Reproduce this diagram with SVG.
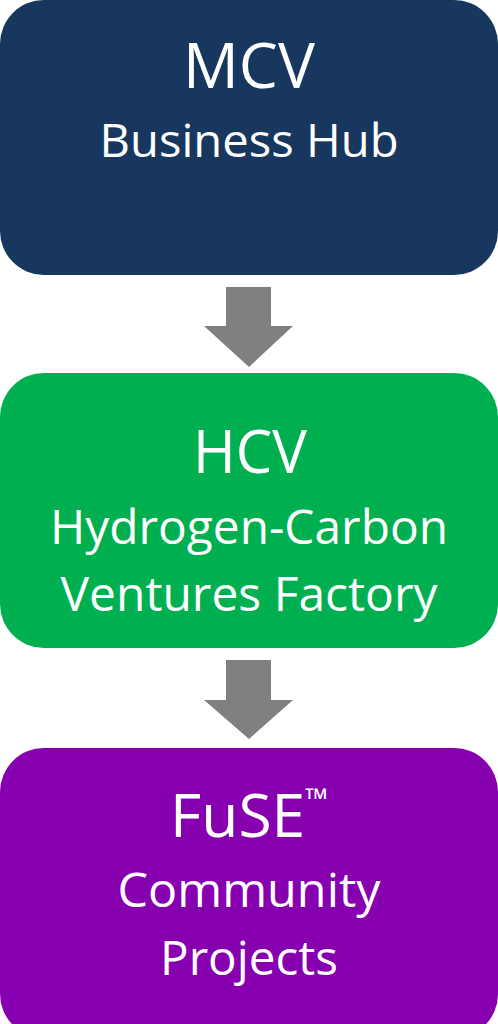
<svg xmlns="http://www.w3.org/2000/svg" width="498" height="1024" viewBox="0 0 498 1024">
  <style>
    .box { stroke: none; }
    .lbl { fill: #ffffff; font-family: "Open Sans", "Noto Sans", sans-serif; text-anchor: middle; }
    .arrow { fill: #808080; stroke: none; }
  </style>
  <rect x="0" y="0" width="498" height="1024" fill="#ffffff"/>
  <g id="node-mcv">
    <rect class="box" x="0" y="0" width="498" height="275" rx="44" ry="44" fill="#17375E"/>
    <text class="lbl" x="249" y="88" font-size="63" textLength="132" lengthAdjust="spacingAndGlyphs">MCV</text>
    <text class="lbl" x="249" y="157" font-size="45" textLength="299" lengthAdjust="spacingAndGlyphs">Business Hub</text>
  </g>
  <g id="node-hcv">
    <rect class="box" x="0" y="373" width="498" height="275" rx="44" ry="44" fill="#00B050"/>
    <text class="lbl" x="250" y="473" font-size="61" textLength="114" lengthAdjust="spacingAndGlyphs">HCV</text>
    <text class="lbl" x="249" y="544" font-size="47" textLength="398" lengthAdjust="spacingAndGlyphs">Hydrogen-Carbon</text>
    <text class="lbl" x="249" y="611" font-size="47" textLength="377" lengthAdjust="spacingAndGlyphs">Ventures Factory</text>
  </g>
  <g id="node-fuse">
    <rect class="box" x="0" y="748" width="498" height="290" rx="44" ry="44" fill="#8600B0"/>
    <text class="lbl" x="249" y="837" font-size="61" textLength="158" lengthAdjust="spacingAndGlyphs">FuSE<tspan font-size="30" dy="-27">™</tspan></text>
    <text class="lbl" x="249" y="907" font-size="47" textLength="263" lengthAdjust="spacingAndGlyphs">Community</text>
    <text class="lbl" x="249" y="975" font-size="47" textLength="178" lengthAdjust="spacingAndGlyphs">Projects</text>
  </g>
  <g id="connectors">
    <polygon class="arrow" points="226,287 271,287 271,326 293,326 249,367 204,326 226,326"/>
    <polygon class="arrow" points="226,660 271,660 271,700 293,700 249,739 204,700 226,700"/>
  </g>
</svg>
